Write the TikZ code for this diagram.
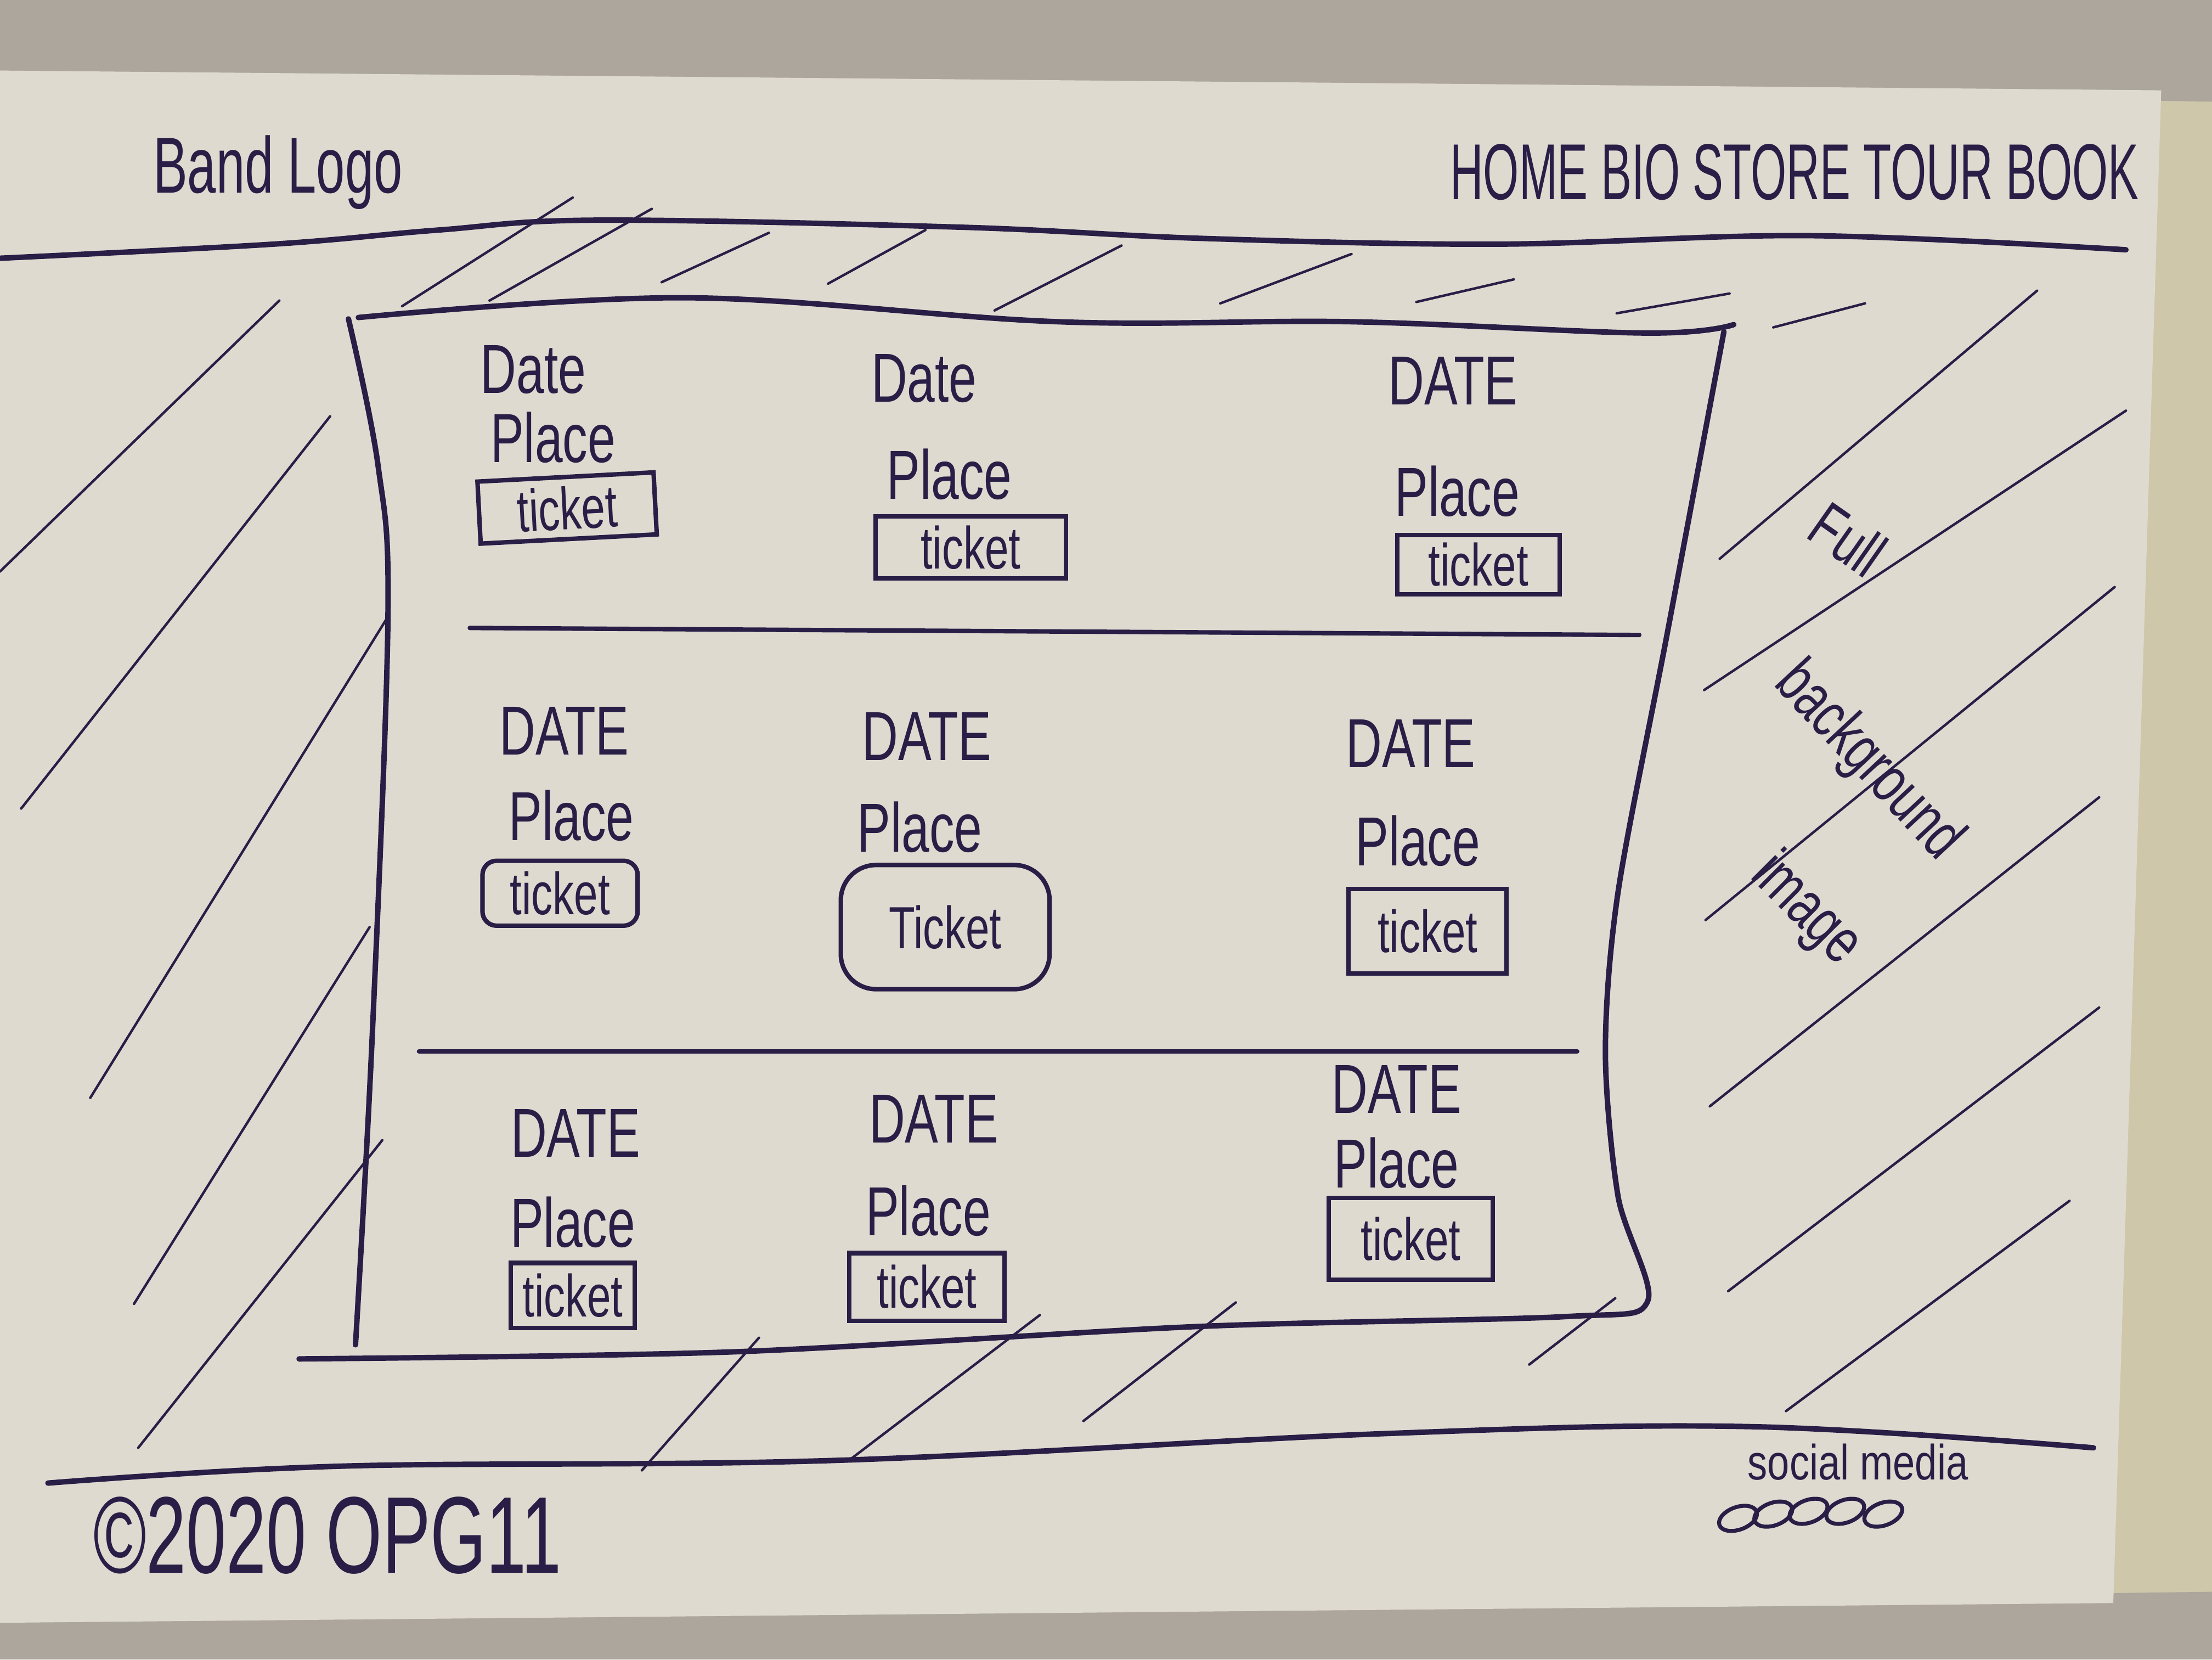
\documentclass[tikz,border=0pt]{standalone}
\usepackage{fontspec}
\setmainfont{Liberation Sans}

\definecolor{ink}{RGB}{40,30,70}
\definecolor{paper}{RGB}{223,218,208}
\definecolor{desk}{RGB}{206,199,170}
\definecolor{deskdark}{RGB}{172,166,156}

% handwriting is tall and narrow
\newcommand{\slim}[2][0.72]{\scalebox{#1}[1]{#2}}

\begin{document}
\begin{tikzpicture}[x=0.1mm, y=-0.1mm,
  every node/.style={text=ink, inner sep=0.5pt},
  frame/.style={draw=ink, line width=1.1pt, line cap=round, line join=round},
  hatch/.style={draw=ink, line width=0.5pt, line cap=round},
  handtxt/.style={font=\fontsize{14}{16}\selectfont},
  ticketbox/.style={draw=ink, line width=0.9pt, inner sep=1pt, font=\fontsize{12}{14}\selectfont}]

% sheet of paper on the desk
\fill[desk] (0,0) rectangle (1568,1176);
\fill[deskdark] (0,0) -- (1568,0) -- (1568,72) -- (0,50) -- cycle;
\fill[deskdark] (0,1150) -- (1568,1128) -- (1568,1176) -- (0,1176) -- cycle;
\fill[paper] (0,50) -- (1532,64) -- (1498,1136) -- (0,1150) -- cycle;
\useasboundingbox (0,0) rectangle (1568,1176);

% header
\node[font=\fontsize{16}{18}\selectfont] (logo) at (197,122) {\slim[0.65]{Band Logo}};
\node[font=\fontsize{16}{18}\selectfont] (menu) at (1272,122) {\slim[0.58]{HOME BIO STORE TOUR BOOK}};
\draw[frame] plot[smooth, tension=0.6] coordinates {(0,183) (194,173) (311,163) (424,156) (681,161) (854,169) (1063,173) (1283,167) (1507,177)};

% main box
\draw[frame] plot[smooth, tension=0.6] coordinates {(254,225) (486,211) (750,228) (958,228) (1167,236) (1229,230)};
\draw[frame] plot[smooth, tension=0.6] coordinates {(247,226) (268,330) (275,437) (264,731) (252,953)};
\draw[frame] plot[smooth, tension=0.5] coordinates {(1222,235) (1182,448) (1147,632) (1138,745) (1147,848) (1168,922) (1110,933) (850,940) (520,958) (212,963)};
\draw[frame, line width=0.9pt] (333,445) -- (1162,450);
\draw[frame, line width=0.9pt] (297,745) -- (1118,745);

% footer
\draw[frame] plot[smooth, tension=0.6] coordinates {(34,1051) (242,1039) (590,1035) (980,1016) (1241,1011) (1484,1026)};

% hatching: background image
\foreach \ax/\ay/\bx/\by in {0/405/198/213, 15/573/234/295, 64/778/275/437, 95/924/262/657, 98/1026/271/808}
  \draw[hatch] (\ax,\ay) -- (\bx,\by);
\foreach \ax/\ay/\bx/\by in {285/217/406/140, 347/213/462/148, 469/200/545/165, 587/201/656/163, 705/220/795/174, 865/215/958/180, 1004/214/1073/198, 1146/222/1226/208, 1257/232/1322/215}
  \draw[hatch] (\ax,\ay) -- (\bx,\by);
\foreach \ax/\ay/\bx/\by in {1219/396/1444/206, 1208/489/1507/291, 1209/652/1499/416, 1212/784/1488/565, 1225/915/1488/714, 1266/1000/1467/851}
  \draw[hatch] (\ax,\ay) -- (\bx,\by);
\foreach \ax/\ay/\bx/\by in {455/1042/538/948, 603/1034/737/932, 768/1007/876/923, 1084/967/1145/920}
  \draw[hatch] (\ax,\ay) -- (\bx,\by);

\node[rotate=-35, font=\fontsize{13}{15}\selectfont] (full) at (1310,382) {\slim{Full}};
\node[rotate=-47, font=\fontsize{13}{15}\selectfont] (backgr) at (1324,540) {\slim{background}};
\node[rotate=-45, font=\fontsize{13}{15}\selectfont] (img) at (1280,645) {\slim{image}};

% first row
\node[handtxt] (date11) at (378,262) {\slim{Date}};
\node[handtxt] (place11) at (392,310) {\slim{Place}};
\node[ticketbox, minimum width=12.5mm, minimum height=4.4mm, rotate=3] (ticket11) at (402,360) {\slim{ticket}};
\node[handtxt] (date12) at (655,268) {\slim{Date}};
\node[handtxt] (place12) at (673,336) {\slim{Place}};
\node[ticketbox, minimum width=13.5mm, minimum height=4.4mm] (ticket12) at (688,388) {\slim{ticket}};
\node[handtxt] (date13) at (1030,270) {\slim{DATE}};
\node[handtxt] (place13) at (1033,348) {\slim{Place}};
\node[ticketbox, minimum width=11.5mm, minimum height=4.2mm] (ticket13) at (1048,400) {\slim{ticket}};

% second row
\node[handtxt] (date21) at (400,518) {\slim{DATE}};
\node[handtxt] (place21) at (405,578) {\slim{Place}};
\node[ticketbox, minimum width=11mm, minimum height=4.6mm, rounded corners=1mm] (ticket21) at (397,633) {\slim{ticket}};
\node[handtxt] (date22) at (657,522) {\slim{DATE}};
\node[handtxt] (place22) at (652,586) {\slim{Place}};
\node[ticketbox, minimum width=14.8mm, minimum height=8.8mm, rounded corners=2.5mm] (ticket22) at (670,657) {\slim{Ticket}};
\node[handtxt] (date23) at (1000,527) {\slim{DATE}};
\node[handtxt] (place23) at (1005,596) {\slim{Place}};
\node[ticketbox, minimum width=11.2mm, minimum height=6mm] (ticket23) at (1012,660) {\slim{ticket}};

% third row
\node[handtxt] (date31) at (408,803) {\slim{DATE}};
\node[handtxt] (place31) at (406,866) {\slim{Place}};
\node[ticketbox, minimum width=8.8mm, minimum height=4.6mm] (ticket31) at (406,918) {\slim{ticket}};
\node[handtxt] (date32) at (662,793) {\slim{DATE}};
\node[handtxt] (place32) at (658,858) {\slim{Place}};
\node[ticketbox, minimum width=11mm, minimum height=4.8mm] (ticket32) at (657,912) {\slim{ticket}};
\node[handtxt] (date33) at (990,772) {\slim{DATE}};
\node[handtxt] (place33) at (990,824) {\slim{Place}};
\node[ticketbox, minimum width=11.6mm, minimum height=5.8mm] (ticket33) at (1000,878) {\slim{ticket}};

% footer content
\node[font=\fontsize{22}{24}\selectfont] (copy) at (232,1088) {\slim[0.66]{©2020 OPG11}};
\node[font=\fontsize{10}{12}\selectfont] (social) at (1317,1036) {\slim[0.8]{social media}};
\foreach \cx/\cy in {1232/1076, 1257/1073, 1282/1071, 1308/1071, 1335/1073}
  \draw[ink, line width=0.8pt, rotate around={20:(\cx,\cy)}] (\cx,\cy) ellipse [x radius=14, y radius=8];
\end{tikzpicture}
\end{document}
